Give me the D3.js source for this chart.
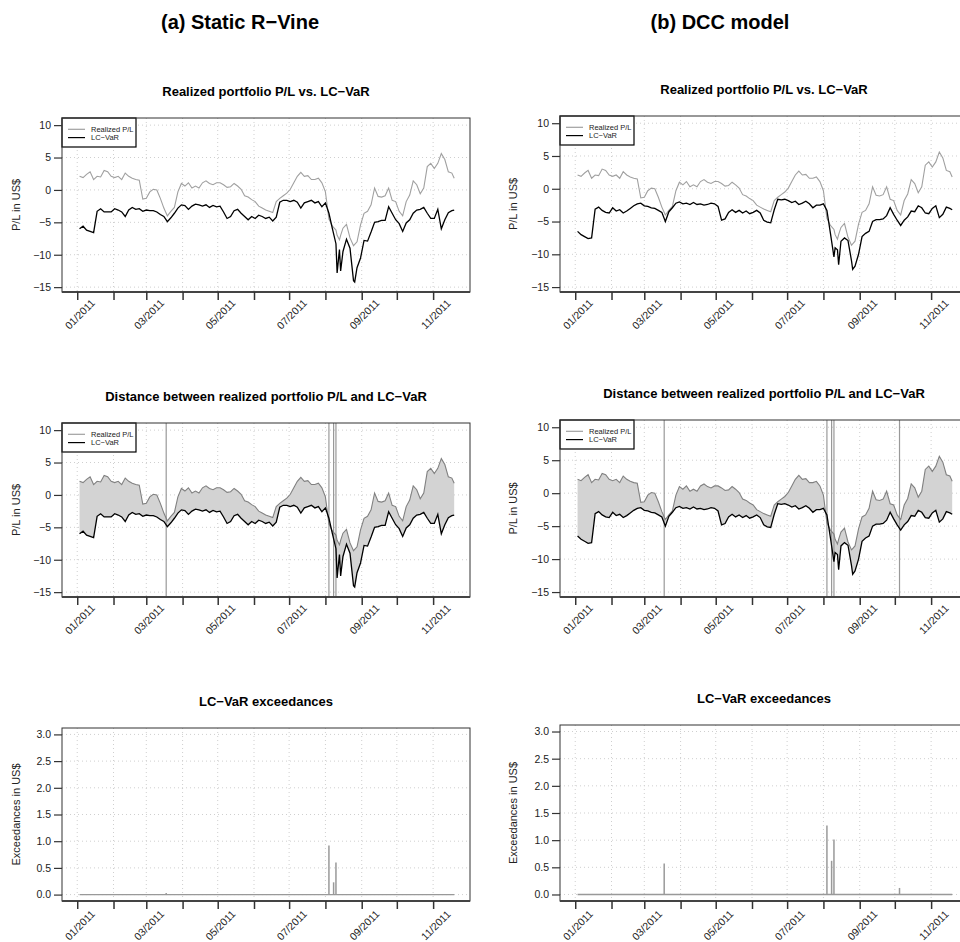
<!DOCTYPE html>
<html>
<head>
<meta charset="utf-8">
<script src="https://cdn.jsdelivr.net/npm/d3@7"></script>
<style>
  body { margin: 0; background: #fff; }
  svg { display: block; }
</style>
</head>
<body>
<div id="chart"></div>
<script>
const dates = [
  "2011-01-03","2011-01-06","2011-01-09","2011-01-12","2011-01-15","2011-01-18","2011-01-21","2011-01-24","2011-01-27","2011-01-30",
  "2011-02-02","2011-02-05","2011-02-08","2011-02-11","2011-02-14","2011-02-17","2011-02-20","2011-02-23","2011-02-26",
  "2011-03-01","2011-03-04","2011-03-07","2011-03-10","2011-03-13","2011-03-16","2011-03-19","2011-03-22","2011-03-25","2011-03-28","2011-03-31",
  "2011-04-03","2011-04-06","2011-04-09","2011-04-12","2011-04-15","2011-04-18","2011-04-21","2011-04-24","2011-04-27","2011-04-30",
  "2011-05-03","2011-05-06","2011-05-09","2011-05-12","2011-05-15","2011-05-18","2011-05-21","2011-05-24","2011-05-27","2011-05-30",
  "2011-06-02","2011-06-05","2011-06-08","2011-06-11","2011-06-14","2011-06-17","2011-06-20","2011-06-23","2011-06-26","2011-06-29",
  "2011-07-02","2011-07-05","2011-07-08","2011-07-11","2011-07-14","2011-07-17","2011-07-20","2011-07-23","2011-07-26","2011-07-29",
  "2011-08-01","2011-08-04","2011-08-07","2011-08-10","2011-08-11","2011-08-13","2011-08-14","2011-08-16","2011-08-19","2011-08-22","2011-08-25","2011-08-26","2011-08-28","2011-08-31",
  "2011-09-03","2011-09-06","2011-09-09","2011-09-12","2011-09-15","2011-09-18","2011-09-21","2011-09-24","2011-09-27","2011-09-30",
  "2011-10-03","2011-10-06","2011-10-09","2011-10-12","2011-10-15","2011-10-18","2011-10-21","2011-10-24","2011-10-27","2011-10-30",
  "2011-11-02","2011-11-05","2011-11-08","2011-11-11","2011-11-14","2011-11-17","2011-11-19"
];

// realized portfolio P/L (same in both columns)
const realizedPL = [
  2.1, 1.9, 2.4, 2.8, 1.6, 2.1, 2.0, 3.0, 2.8, 2.1,
  1.9, 2.1, 1.6, 2.6, 2.1, 1.8, 1.6, 1.5, -1.4,
  -1.3, -0.3, 0.1, 0.0, -1.3, -2.8, -4.0, -3.3, -2.7, -0.3, 1.0,
  0.6, 1.1, 0.3, 0.6, 0.3, 1.1, 1.4, 1.0, 0.8, 1.1,
  1.1, 0.8, 0.4, 0.5, 1.0, 0.6, 0.1, -0.9, -1.1, -1.5,
  -1.8, -2.5, -2.8, -3.1, -3.3, -3.5, -1.8, -1.3, -0.9, -0.5,
  0.1, 1.1, 2.1, 2.7, 2.1, 2.2, 1.6, 1.6, 1.8, 1.1,
  -0.3, -4.5, -5.6, -6.2, -7.0, -7.7, -7.0, -5.9, -5.3, -7.4, -8.6, -8.4, -8.0, -5.4,
  -3.6, -3.3, -2.3, 0.3, -1.0, -1.1, -0.9, 0.3, -1.6, -1.8,
  -3.3, -4.0, -1.8, -0.8, 1.4, 0.8, -0.6, 0.3, 3.6, 4.1,
  3.3, 4.1, 5.6, 4.7, 2.8, 2.6, 1.8
];

// LC-VaR, static R-vine
const vineVaR = [
  -6.0, -5.6, -6.2, -6.4, -6.6, -3.3, -2.9, -3.4, -3.4, -3.4,
  -2.9, -3.1, -3.4, -4.1, -3.1, -2.7, -3.0, -2.9, -3.3,
  -3.1, -3.2, -3.2, -3.4, -3.8, -4.1, -4.9, -4.3, -3.6, -2.8, -2.3,
  -2.4, -3.0, -2.5, -2.2, -2.3, -2.5, -2.3, -2.7, -2.4, -2.6,
  -2.5, -3.4, -4.4, -4.1, -3.2, -3.0, -3.6, -4.1, -4.6, -4.1,
  -4.4, -3.9, -4.1, -4.4, -4.2, -4.8, -4.2, -1.9, -1.6, -1.6,
  -1.8, -1.6, -1.9, -2.8, -2.0, -1.8, -1.6, -2.0, -1.8, -2.6,
  -2.0, -3.6, -6.0, -8.3, -12.8, -9.2, -12.5, -9.5, -7.6, -9.0, -14.0, -14.2, -12.0, -10.5,
  -7.8, -7.9, -6.5, -5.0, -4.9, -4.7, -4.7, -2.6, -3.6, -4.6,
  -5.2, -6.4, -5.1, -4.6, -3.6, -3.1, -3.0, -2.7, -3.6, -4.4,
  -4.4, -3.0, -6.0, -4.6, -3.5, -3.2, -3.1
];

// LC-VaR, DCC model
const dccVaR = [
  -6.5, -7.0, -7.3, -7.6, -7.5, -3.1, -2.8, -3.3, -3.6, -3.7,
  -2.9, -3.4, -3.2, -3.7, -3.4, -3.0, -2.6, -2.3, -2.2,
  -2.6, -2.7, -2.9, -3.0, -3.3, -3.6, -5.0, -3.5, -2.9, -2.2, -2.0,
  -2.3, -2.2, -2.4, -2.1, -2.4, -2.3, -2.5, -2.4, -2.2, -2.3,
  -2.7, -4.8, -4.6, -3.6, -3.2, -3.6, -3.3, -3.7, -3.4, -3.8,
  -3.6, -3.3, -3.7, -4.8, -5.1, -5.2, -3.2, -1.6, -1.7, -1.6,
  -1.8, -2.1, -1.9, -2.4, -2.2, -1.9, -2.3, -2.9, -2.5, -2.5,
  -2.3, -3.3, -6.8, -10.4, -9.0, -9.3, -11.6, -8.0, -7.5, -7.9, -11.0, -12.3, -11.8, -10.0,
  -7.3, -6.8, -6.5, -5.0, -4.7, -4.7, -4.6, -4.1, -2.9, -3.9,
  -4.8, -5.6, -4.8, -4.3, -3.4, -3.5, -2.6, -2.9, -3.7, -3.8,
  -3.0, -2.6, -4.4, -3.9, -2.8, -3.0, -3.2
];

// exceedance days and sizes
const excDates = ["2011-03-18", "2011-08-04", "2011-08-08", "2011-08-10", "2011-10-05"];
const vineExc = [0.03, 0.92, 0.23, 0.60, 0];
const dccExc = [0.57, 1.27, 0.62, 1.01, 0.12];

// axis ticks
const monthTicks = ["2011-01-01","2011-02-01","2011-03-01","2011-04-01","2011-05-01","2011-06-01",
                    "2011-07-01","2011-08-01","2011-09-01","2011-10-01","2011-11-01"];
const monthLabels = ["01/2011","","03/2011","","05/2011","","07/2011","","09/2011","","11/2011"];
const plTicks = [-15, -10, -5, 0, 5, 10];
const excTicks = [0, 0.5, 1, 1.5, 2, 2.5, 3];

const FONT = "'Liberation Sans', Arial, Helvetica, sans-serif";
const width = 960, height = 942;
const plotW = 408;
const bottoms = [292, 597, 901];
const labelDrop = [22, 22, 24];
const rowTitles = ["Realized portfolio P/L vs. LC\u2212VaR",
                   "Distance between realized portfolio P/L and LC\u2212VaR",
                   "LC\u2212VaR exceedances"];

const parse = d3.timeParse("%Y-%m-%d");

const columns = [
  {title: "(a) Static R\u2212Vine", cx: 240, left: 62, tops: [118, 423, 728], lab: 16, varS: vineVaR, exc: vineExc},
  {title: "(b) DCC model", cx: 720, left: 560, tops: [116, 420, 725], lab: 513, varS: dccVaR, exc: dccExc}
];

const svg = d3.select("#chart").append("svg")
  .attr("width", width)
  .attr("height", height)
  .style("font-family", FONT);

columns.forEach(col => {
  svg.append("text")
    .attr("x", col.cx).attr("y", 29)
    .attr("text-anchor", "middle")
    .attr("font-size", 20).attr("font-weight", "bold")
    .text(col.title);

  const x = d3.scaleTime()
    .domain([new Date(2010, 11, 19), new Date(2011, 11, 2, 12)])
    .range([col.left, col.left + plotW]);

  const data = dates.map((s, i) => ({date: parse(s), pl: realizedPL[i], v: col.varS[i]}));
  const excData = excDates.map((s, i) => ({date: parse(s), v: col.exc[i]})).filter(d => d.v > 0);

  for (let r = 0; r < 3; r++) {
    const top = col.tops[r], bottom = bottoms[r];
    const g = svg.append("g");
    const isExc = r === 2;
    const y = d3.scaleLinear()
      .domain(isExc ? [-0.12, 3.12] : [-15.75, 11.1])
      .range([bottom, top]);
    const yTicks = isExc ? excTicks : plTicks;
    const ticks = monthTicks.map(parse);

    // title
    g.append("text")
      .attr("x", col.left + plotW / 2).attr("y", top - 22)
      .attr("text-anchor", "middle")
      .attr("font-size", 13).attr("font-weight", "bold")
      .text(rowTitles[r]);

    // grid
    g.append("g").selectAll("line").data(ticks).join("line")
      .attr("x1", d => x(d)).attr("x2", d => x(d))
      .attr("y1", top).attr("y2", bottom)
      .attr("stroke", "#cfcfcf").attr("stroke-dasharray", "1,3");
    g.append("g").selectAll("line").data(yTicks).join("line")
      .attr("x1", col.left).attr("x2", col.left + plotW)
      .attr("y1", d => y(d)).attr("y2", d => y(d))
      .attr("stroke", "#cfcfcf").attr("stroke-dasharray", "1,3");

    const line = d3.line().x(d => x(d.date));

    if (!isExc) {
      if (r === 1) {
        g.append("path").datum(data)
          .attr("fill", "#d3d3d3")
          .attr("d", d3.area().x(d => x(d.date)).y0(d => y(d.v)).y1(d => y(d.pl)));
        g.append("g").selectAll("line").data(excData).join("line")
          .attr("x1", d => x(d.date)).attr("x2", d => x(d.date))
          .attr("y1", top).attr("y2", bottom)
          .attr("stroke", "#999").attr("stroke-width", 1.2);
      }
      g.append("path").datum(data)
        .attr("fill", "none")
        .attr("stroke", r === 1 ? "#808080" : "#a0a0a0").attr("stroke-width", 1.1)
        .attr("d", line.y(d => y(d.pl)));
      g.append("path").datum(data)
        .attr("fill", "none")
        .attr("stroke", "#000").attr("stroke-width", 1.3)
        .attr("d", line.y(d => y(d.v)));

      // legend
      const lg = g.append("g").attr("transform", `translate(${col.left},${top})`);
      lg.append("rect").attr("width", 74).attr("height", 29)
        .attr("fill", "#fff").attr("stroke", "#000").attr("stroke-width", 1.2);
      [["Realized P/L", "#a0a0a0", 11.3], ["LC\u2212VaR", "#000", 19.6]].forEach(([t, c, yy]) => {
        lg.append("line").attr("x1", 6).attr("x2", 23).attr("y1", yy).attr("y2", yy)
          .attr("stroke", c).attr("stroke-width", 1.2);
        lg.append("text").attr("x", 29).attr("y", yy + 2.6)
          .attr("font-size", 7.5).attr("fill", "#222").text(t);
      });
    } else {
      const ext = d3.extent(data, d => d.date);
      g.append("path").datum(ext)
        .attr("fill", "none").attr("stroke", "#999").attr("stroke-width", 1.4)
        .attr("d", d3.line().x(d => x(d)).y(() => y(0)));
      g.append("g").selectAll("line").data(excData).join("line")
        .attr("x1", d => x(d.date)).attr("x2", d => x(d.date))
        .attr("y1", y(0)).attr("y2", d => y(d.v))
        .attr("stroke", "#999").attr("stroke-width", 1.5);
    }

    // frame
    g.append("rect")
      .attr("x", col.left).attr("y", top)
      .attr("width", plotW).attr("height", bottom - top)
      .attr("fill", "none").attr("stroke", "#333").attr("stroke-width", 1);
    g.append("line")
      .attr("x1", col.left).attr("x2", col.left + plotW)
      .attr("y1", bottom).attr("y2", bottom)
      .attr("stroke", "#444").attr("stroke-width", 2);

    // y axis
    const yAxis = d3.axisLeft(y).tickValues(yTicks).tickSize(8).tickPadding(3)
      .tickFormat(isExc ? d3.format(".1f") : d3.format("d"));
    g.append("g").attr("transform", `translate(${col.left},0)`)
      .call(yAxis)
      .call(a => a.select(".domain").remove())
      .call(a => a.attr("font-family", FONT).attr("font-size", 10.5))
      .call(a => a.selectAll("line").attr("stroke", "#333").attr("stroke-width", 1.2))
      .call(a => a.selectAll("text").attr("fill", "#222"));

    // x axis
    const xAxis = d3.axisBottom(x).tickValues(ticks).tickSize(8)
      .tickFormat((d, i) => monthLabels[i]);
    g.append("g").attr("transform", `translate(0,${bottom})`)
      .call(xAxis)
      .call(a => a.select(".domain").remove())
      .call(a => a.attr("font-family", FONT).attr("font-size", 10.5))
      .call(a => a.selectAll("line").attr("stroke", "#333").attr("stroke-width", 1.5))
      .call(a => a.selectAll("text")
        .attr("y", 0).attr("dy", null)
        .attr("fill", "#222")
        .attr("text-anchor", "middle")
        .attr("dominant-baseline", "central")
        .attr("transform", `translate(2,${labelDrop[r]}) rotate(-45)`));

    // y label
    g.append("text")
      .attr("transform", `translate(${col.lab},${(top + bottom) / 2}) rotate(-90)`)
      .attr("text-anchor", "middle")
      .attr("dominant-baseline", "central")
      .attr("font-size", 11).attr("fill", "#222")
      .text(isExc ? "Exceedances in US$" : "P/L in US$");
  }
});
</script>
</body>
</html>
